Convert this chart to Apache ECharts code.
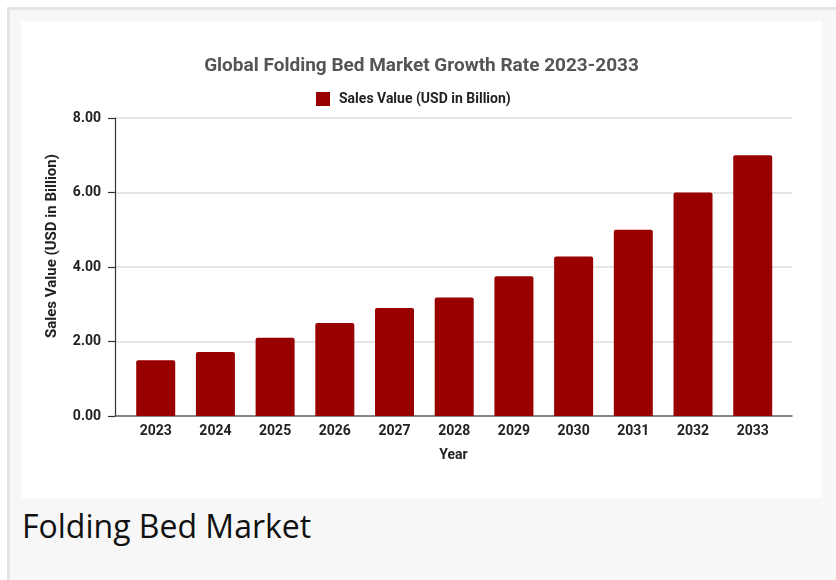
<!DOCTYPE html>
<html>
<head>
<meta charset="utf-8">
<script src="https://cdn.jsdelivr.net/npm/echarts@6/dist/echarts.min.js"></script>
<style>
  html, body { margin: 0; padding: 0; background: #ffffff; width: 836px; height: 580px; overflow: hidden; }
  #frame { position: absolute; left: 7px; top: 7px; width: 840px; height: 600px; box-sizing: border-box;
           border: 3px solid #e4e4e4; background: #f7f7f7; }
  #chart { position: absolute; left: 21px; top: 21px; width: 801px; height: 477px; background: #ffffff; }
  #caption { position: absolute; left: 22px; top: 504px; font-family: "Open Sans", sans-serif; font-size: 32px;
             color: #111111; white-space: nowrap; }
</style>
</head>
<body>
<div id="frame"></div>
<div id="chart"></div>
<div id="caption">Folding Bed Market</div>
<script>
const years = [2023, 2024, 2025, 2026, 2027, 2028, 2029, 2030, 2031, 2032, 2033];
const salesValues = [1.5, 1.72, 2.1, 2.5, 2.9, 3.18, 3.75, 4.28, 5.0, 6.0, 7.0];
const yTicks = [0, 2, 4, 6, 8];
const seriesName = 'Sales Value (USD in Billion)';
const titleText = 'Global Folding Bed Market Growth Rate 2023-2033';

const chart = echarts.init(document.getElementById('chart'));
const boldFont = 'Roboto, "Liberation Sans", sans-serif';
chart.setOption({
  animation: false,
  backgroundColor: '#ffffff',
  title: {
    text: titleText,
    left: 'center',
    top: 36,
    padding: 0,
    textStyle: { fontFamily: boldFont, fontSize: 19, fontWeight: 'bold', color: '#555555' }
  },
  legend: {
    data: [seriesName],
    left: 295,
    top: 71,
    padding: 0,
    icon: 'rect',
    itemWidth: 14,
    itemHeight: 14,
    textStyle: { fontFamily: boldFont, fontSize: 14, fontWeight: 'bold', color: '#222222', padding: [0, 0, 0, 4] }
  },
  grid: { left: 94, right: 30, top: 97, bottom: 82, containLabel: false },
  xAxis: {
    type: 'value',
    min: 2022.318,
    max: 2033.658,
    name: 'Year',
    nameLocation: 'middle',
    nameGap: 32,
    nameTextStyle: { fontFamily: boldFont, fontSize: 14, fontWeight: 'bold', color: '#222222' },
    axisLine: { show: true, onZero: false, lineStyle: { color: '#666666', width: 1.5 } },
    axisTick: { show: false },
    splitLine: { show: false },
    axisLabel: {
      customValues: years,
      margin: 8,
      fontFamily: boldFont, fontSize: 14, fontWeight: 'bold', color: '#222222',
      formatter: v => String(Math.round(v))
    }
  },
  yAxis: {
    type: 'value',
    min: 0,
    max: 8,
    interval: 2,
    name: seriesName,
    nameLocation: 'middle',
    nameGap: 55,
    nameTextStyle: { fontFamily: boldFont, fontSize: 15, fontWeight: 'bold', color: '#222222', padding: [0, 0, 0, 42] },
    axisLine: { show: true, lineStyle: { color: '#333333', width: 1.2 } },
    axisTick: { show: true, length: 7, lineStyle: { color: '#333333', width: 1.2 } },
    splitLine: { show: true, lineStyle: { color: '#dddddd', width: 1.5 } },
    axisLabel: {
      customValues: yTicks,
      margin: 14,
      fontFamily: boldFont, fontSize: 14, fontWeight: 'bold', color: '#222222',
      formatter: v => v.toFixed(2)
    }
  },
  series: [{
    name: seriesName,
    type: 'bar',
    barWidth: 39,
    data: years.map((y, i) => [y, salesValues[i]]),
    itemStyle: { color: '#990000', borderRadius: [2, 2, 0, 0] }
  }]
});
</script>
</body>
</html>
